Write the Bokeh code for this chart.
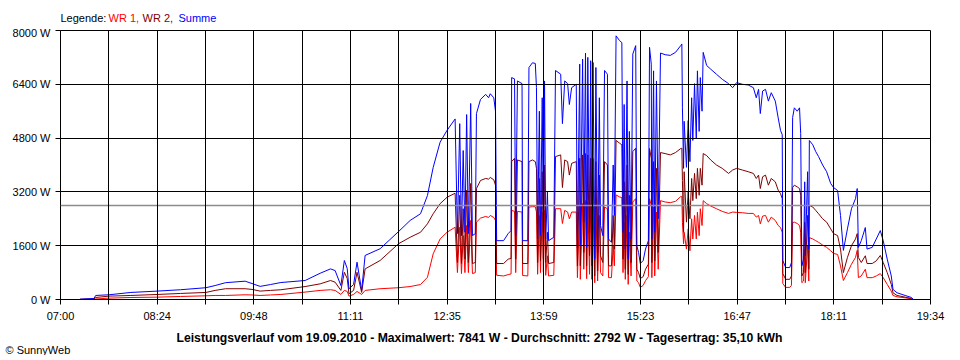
from bokeh.plotting import figure
from bokeh.layouts import column
from bokeh.models import (Range1d, FixedTicker, CustomJSTickFormatter, PrintfTickFormatter,
                          Span, ColumnDataSource, Title)
from bokeh.core.properties import value
from bokeh.embed import file_html
from bokeh.resources import INLINE

# ---------------- data ----------------
AXIS_SPAN_MIN = 754          # 07:00 .. 19:34, minutes
N_GRID = 18                  # grid intervals on the time axis
tick_labels = ["07:00", "08:24", "09:48", "11:11", "12:35", "13:59",
               "15:23", "16:47", "18:11", "19:34"]
y_ticks = [0, 1600, 3200, 4800, 6400, 8000]
average_w = 2792
legend_texts = ["Legende:", "WR 1,", "WR 2,", "Summe"]
legend_colors = ["black", "#FF0000", "#800000", "#0000FF"]
summary_text = ("Leistungsverlauf vom 19.09.2010 - Maximalwert: 7841 W - "
                "Durchschnitt: 2792 W - Tagesertrag: 35,10 kWh")
copyright_text = "\u00a9 SunnyWeb"

# minutes after 07:00
t_min = [
    17, 29, 30.5, 42, 61, 84, 104, 126, 134, 143, 160, 166, 173, 182, 191, 212,
    225, 234, 238, 243, 246, 248.5, 250, 254, 257, 261, 264, 277, 293, 303, 312,
    318, 323, 329, 335, 342,
    344, 346, 347.5, 349, 350.5, 352, 353.5, 355.5, 357, 359.5, 360.5, 364, 368.5,
    371, 372.5, 375.5, 377, 378, 384, 388, 390.5, 391, 393.5, 394.5, 396, 400,
    400.5, 405, 406, 409, 411.5, 412.5, 413.5, 415, 416, 417.5, 418.5, 419.5,
    420.5, 422, 423, 427.5, 429, 433.5, 435, 437, 439.5, 441, 443, 447, 448, 450,
    450.5, 452.5, 453.5, 455, 456, 457, 458.5, 459.5, 460.5, 461.5, 463, 464,
    465.5, 467, 468, 470, 471.5, 474, 475, 477.5, 479, 480, 481.5, 484.5, 486.5,
    487.5, 488.5, 489.5, 491, 492, 493, 494.5, 496, 498.5, 499.5, 501, 502.5, 505,
    507, 509.5, 510.5, 512, 512.5, 514, 515, 516.5, 518, 520, 524, 528.5, 533,
    537.5, 538.5, 539, 540, 540.5, 542.5, 544, 545.5, 547, 548, 549.5, 551, 552,
    553.5, 554.5, 556, 557, 560, 563.5, 568.5, 573.5, 579, 582.5, 586, 591, 596,
    600.5, 603, 605, 606.5, 608.5, 611, 613.5, 616, 619.5, 622, 624, 625.5, 626,
    628.5, 632, 633.5, 634.5, 636, 638.5, 640.5, 641.5, 642.5, 644, 645, 645.5,
    647.5, 648.5, 649, 652, 654.5, 657, 660.5, 664, 667.5, 670, 673.5, 676, 678.5,
    682, 685.5, 689, 690.5, 691.5, 694, 697.5, 699, 703.5, 707, 710.5, 713, 716.5,
    720, 721.5, 725, 732, 737.5, 739,
]

summe_w = [
    10, 30, 120, 140, 210, 250, 290, 350, 415, 500, 545, 475, 390, 445, 505, 565,
    780, 910, 860, 415, 1160, 920, 320, 445, 1110, 270, 1310, 1510, 2020, 2350, 2550,
    3090, 3930, 4680, 5030, 5370,
    1960, 5230, 1900, 4430, 2000, 5500, 1960, 5830, 1900, 1960, 5530, 5950, 6100,
    6000, 6120, 6000, 5600, 1750, 1750, 1960, 2050, 6600, 6560, 1900, 6500, 6420,
    1750, 1750, 6900, 7040, 7020, 6300, 1800, 5600, 1900, 6000, 2000, 6500,
    1800, 3200, 1750, 1850, 6810, 6700, 5230, 6500, 6420, 5800, 6300, 6400, 1550, 7000,
    1600, 7150, 2300, 7330, 1550, 7200, 2000, 7100, 1500, 7050, 1200, 6900,
    1400, 6000, 2200, 1900, 6810, 6700, 1800, 1700, 4000, 2500, 7841, 7700, 7640,
    2000, 5800, 1500, 6500, 1200, 5000, 1800, 7300, 7550, 1600, 1400, 1070, 1160,
    1500, 1750, 7500, 7000, 1800, 6800, 2000, 6500, 2400, 7330, 7280, 7260, 7350,
    7550, 7600, 5700, 3900, 5300, 3930, 5320, 4100, 6000, 4730, 6420, 4800, 6800,
    5000, 6600, 5600, 7350, 6960, 6850, 6700, 6550, 6420, 6300, 6450, 6400, 6380,
    6300, 6000, 6250, 5530, 6200, 6250, 5900, 6150, 5900, 5400, 5030, 4900, 1160,
    950, 950, 1100, 5410, 5700, 5600, 5700, 4940, 1000, 1200, 3500, 1300,
    3800, 1500, 4730, 4600, 4400, 4250, 4000, 3800, 3450, 3330, 3240, 2500, 1460,
    2100, 2700, 3000, 3300, 1550, 1750, 2140, 1500, 1550, 1800, 2050, 1750, 1200,
    700, 300, 200, 120, 60, 10,
]

wr2_w = [
    5, 15, 60, 100, 120, 150, 180, 210, 270, 320, 320, 300, 250, 270, 290, 385,
    465, 565, 515, 270, 810, 625, 170, 270, 810, 210, 910, 1160, 1660, 1850, 2000,
    2250, 2550, 2850, 3040, 3160,
    1100, 3100, 1070, 2700, 1200, 3250, 1100, 3450, 1070, 1100, 3300, 3540, 3600,
    3580, 3630, 3560, 3400, 1070, 1070, 1200, 1220, 4100, 4200, 1200, 4150, 4100,
    1070, 1070, 4100, 4150, 4100, 3900, 1100, 3600, 1150, 3800, 1200, 4000,
    1100, 2000, 1070, 1100, 4250, 4300, 3330, 4150, 4100, 3700, 4050, 4100, 1000, 4200,
    1000, 4300, 1400, 4340, 1000, 4300, 1300, 4200, 1000, 4190, 700, 4100,
    850, 3700, 1300, 1100, 4100, 4000, 1000, 1000, 2500, 1500, 4730, 4650, 4600,
    1200, 3500, 900, 4000, 750, 3100, 1100, 4400, 4500, 900, 800, 625, 680,
    900, 1050, 4490, 4200, 1100, 4100, 1150, 3900, 1400, 4370, 4340, 4300, 4370,
    4490, 4500, 3540, 2000, 3800, 2300, 3200, 2400, 3600, 2940, 3750, 3000, 3900,
    3100, 3900, 3400, 4340, 4280, 4150, 4000, 3900, 3750, 3850, 3900, 3850, 3800,
    3750, 3600, 3700, 3300, 3650, 3700, 3400, 3600, 3500, 3250, 3150, 3000, 770,
    600, 600, 700, 3330, 3400, 3350, 3300, 3100, 700, 800, 2300, 800,
    2500, 900, 2800, 2750, 2650, 2550, 2400, 2300, 2100, 1960, 1900, 1500, 800,
    1250, 1600, 1800, 1960, 1250, 1100, 1300, 1070, 1070, 1150, 1310, 1100, 800,
    450, 200, 120, 70, 30, 5,
]

wr1_w = [
    5, 10, 15, 40, 60, 70, 90, 110, 120, 120, 140, 135, 120, 135, 150, 220,
    270, 290, 270, 150, 270, 240, 100, 150, 240, 150, 270, 320, 350, 385, 445,
    660, 1360, 1800, 2000, 2150,
    800, 2150, 770, 1900, 800, 2200, 800, 2350, 770, 800, 2300, 2420, 2470,
    2440, 2500, 2440, 2350, 720, 700, 740, 760, 2650, 2620, 800, 2620, 2600,
    714, 700, 2750, 2760, 2760, 2600, 750, 2500, 800, 2600, 820, 2650,
    720, 1300, 700, 720, 2700, 2700, 2260, 2650, 2600, 2400, 2600, 2600, 650, 2800,
    600, 2850, 900, 2940, 620, 2900, 750, 2850, 600, 2800, 500, 2750,
    550, 2500, 800, 700, 2750, 2700, 650, 650, 1600, 1000, 3110, 3050, 3030,
    800, 2300, 600, 2500, 450, 2000, 700, 2900, 3000, 550, 500, 360, 420,
    560, 680, 3000, 2800, 650, 2750, 700, 2600, 900, 2940, 2900, 2880, 2920,
    3060, 3060, 2300, 1660, 2000, 1500, 2100, 1450, 2400, 1800, 2500, 1800, 2600,
    1900, 2700, 2200, 2940, 2850, 2780, 2700, 2620, 2560, 2600, 2590, 2580, 2560,
    2560, 2450, 2500, 2250, 2480, 2500, 2300, 2450, 2350, 2200, 2140, 2000, 475,
    360, 360, 420, 2290, 2300, 2260, 2200, 2000, 500, 550, 1500, 500,
    1600, 550, 1840, 1800, 1750, 1700, 1620, 1550, 1450, 1370, 1340, 1000, 565,
    800, 1050, 1250, 1460, 650, 700, 900, 650, 650, 700, 770, 650, 450,
    250, 120, 80, 50, 20, 5,
]

# ---------------- figures ----------------
FONT = "Liberation Sans"
LEFT, RIGHT = 60, 30          # page borders around the plot frame
FRAME_W = 960 - LEFT - RIGHT
TOP_H = 26
BOT_H = 17


def text_strip(height):
    f = figure(frame_width=FRAME_W, frame_height=height,
               min_border_left=LEFT, min_border_right=RIGHT, min_border_top=0, min_border_bottom=0,
               x_range=Range1d(LEFT, LEFT + FRAME_W), y_range=Range1d(height, 0),
               x_axis_location=None, y_axis_location=None,
               output_backend="svg", toolbar_location=None,
               background_fill_color="white", border_fill_color="white")
    f.outline_line_color = None
    f.xgrid.visible = False
    f.ygrid.visible = False
    return f


# top strip: coloured legend text (frame spans the same columns as the chart frame)
top = text_strip(TOP_H)
leg_src = ColumnDataSource(dict(x=[60, 108, 142, 178], y=[17] * 4,
                                text=legend_texts, color=legend_colors))
top.text(x="x", y="y", text="text", text_color="color", source=leg_src,
         text_font=value(FONT), text_font_size=value("11px"),
         text_baseline="alphabetic", text_align="left")

# main chart
step = AXIS_SPAN_MIN / N_GRID
x_ticks = [k * step for k in range(N_GRID + 1)]

p = figure(frame_width=FRAME_W, frame_height=269,
           min_border_left=LEFT, min_border_right=RIGHT, min_border_top=4, min_border_bottom=29,
           x_range=Range1d(0, AXIS_SPAN_MIN), y_range=Range1d(0, 8000),
           output_backend="svg", toolbar_location=None,
           background_fill_color="white", border_fill_color="white")
p.outline_line_color = "black"
p.outline_line_width = 1

p.line(t_min, wr1_w, line_color="#FF0000", line_width=1)
p.line(t_min, wr2_w, line_color="#800000", line_width=1)
p.line(t_min, summe_w, line_color="#0000FF", line_width=1)

p.add_layout(Span(location=average_w, dimension="width", line_color="#8C8C8C", line_width=1.5))

p.xaxis.ticker = FixedTicker(ticks=x_ticks)
p.xaxis.formatter = CustomJSTickFormatter(
    args=dict(labels=tick_labels, step=step),
    code="const k = Math.round(tick / step); return (k % 2 == 0) ? labels[k / 2] : '';")
p.yaxis.ticker = FixedTicker(ticks=y_ticks)
p.yaxis.formatter = PrintfTickFormatter(format="%d W")

for ax in (p.xaxis[0], p.yaxis[0]):
    ax.axis_line_color = "black"
    ax.major_tick_line_color = "black"
    ax.major_tick_out = 5
    ax.major_tick_in = 0
    ax.minor_tick_line_color = None
    ax.major_label_text_font = FONT
    ax.major_label_text_font_size = "11px"
    ax.major_label_text_color = "black"
p.xaxis.major_label_standoff = 5
p.yaxis.major_label_standoff = 5

p.xgrid.ticker = FixedTicker(ticks=x_ticks)
p.ygrid.ticker = FixedTicker(ticks=y_ticks)
for g in (p.xgrid[0], p.ygrid[0]):
    g.grid_line_color = "black"
    g.grid_line_width = 1
    g.level = "overlay"

# bottom strip: summary line in the frame, copyright as a title below it
bottom = text_strip(BOT_H)
bottom.text(x=[176], y=[9], text=[summary_text], text_color="black",
            text_font=value(FONT), text_font_size=value("12.2px"), text_font_style="bold",
            text_baseline="alphabetic", text_align="left")
bottom.add_layout(Title(text=copyright_text, align="left", offset=-55, standoff=-4,
                        vertical_align="top",
                        text_font=FONT, text_font_size="11px", text_font_style="normal",
                        text_color="black"), "below")

layout = column(top, p, bottom, spacing=0)
open("out.html", "w").write(file_html(layout, INLINE))
